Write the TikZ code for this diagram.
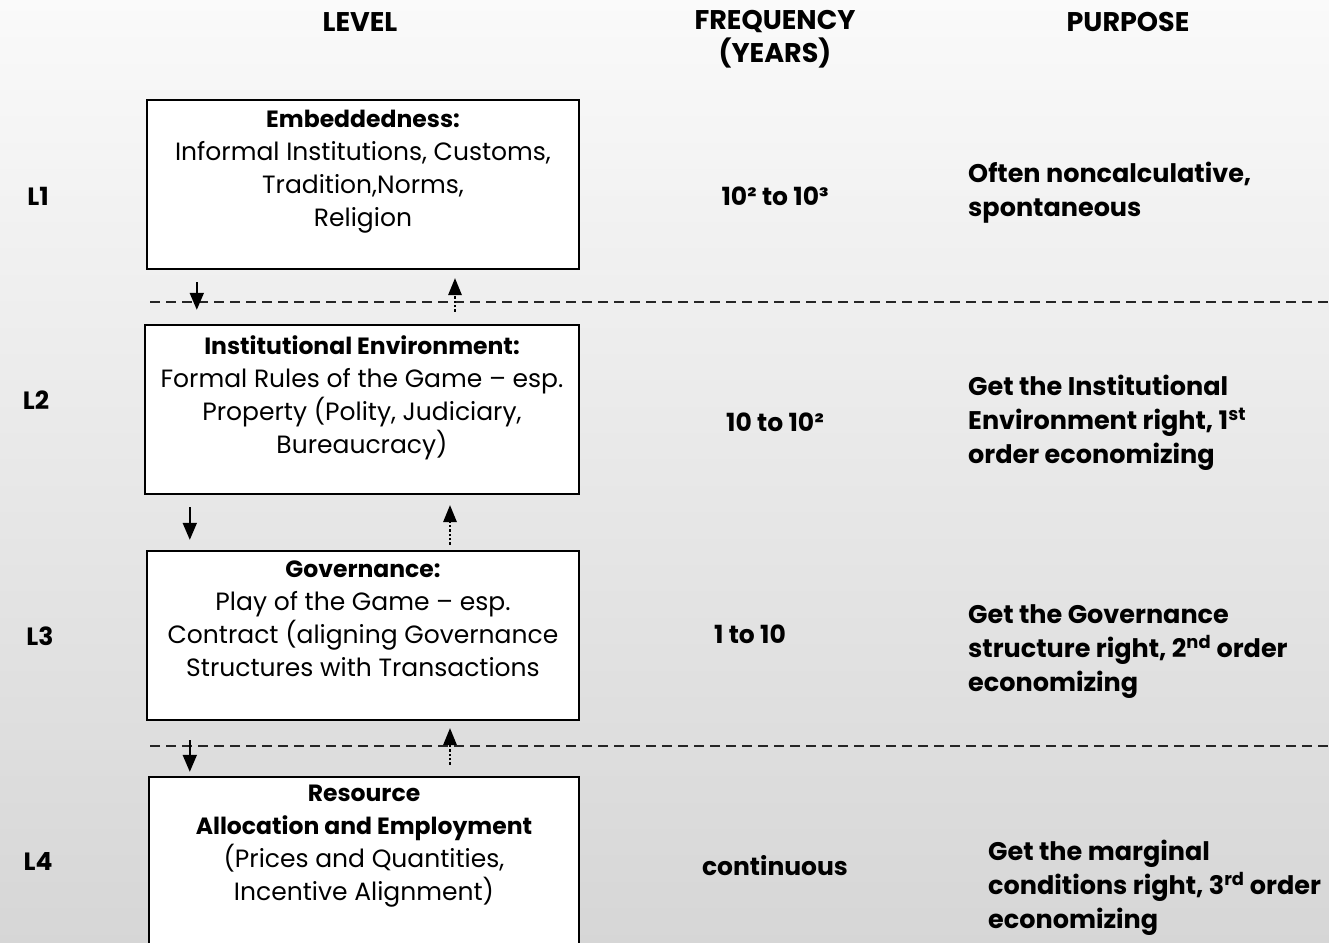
\documentclass[tikz,border=0pt]{standalone}
\usepackage{fontspec}
\setmainfont{Poppins}
\usetikzlibrary{arrows.meta,calc}

\newcommand{\boldline}[1]{{\fontsize{23.5}{33}\selectfont\bfseries #1}}

\tikzset{
  levelbox/.style={draw=black, line width=2pt, fill=white},
  boxtext/.style={anchor=north, align=center, inner sep=0pt, font=\fontsize{25}{33}\selectfont},
  head/.style={anchor=center, align=center, inner sep=0pt, font=\fontsize{27}{33}\selectfont\bfseries},
  lvl/.style={anchor=center, inner sep=0pt, font=\fontsize{25}{30}\selectfont\bfseries},
  freq/.style={anchor=center, inner sep=0pt, font=\fontsize{25}{33}\selectfont\bfseries},
  purpose/.style={anchor=north west, align=left, inner sep=0pt, font=\fontsize{25.5}{34}\selectfont\bfseries},
  sep/.style={dash pattern=on 10pt off 6pt, line width=1.6pt, black!85},
  dn/.style={line width=2pt, -{Triangle[width=14pt,length=17pt]}},
  up/.style={line width=2.4pt, dotted, -{Triangle[width=14pt,length=17pt,line width=0pt]}},
}

\begin{document}
\begin{tikzpicture}[x=1pt,y=-1pt]
  % page and background shading
  \useasboundingbox (0,0) rectangle (1329,942);
  \shade[top color=white!98!black, bottom color=white!84!black] (0,0) rectangle (1329,942);
  \clip (0,0) rectangle (1329,942);

  % column headings
  \node[head] (hlevel) at (360,22) {LEVEL};
  \node[head] (hfreq) at (775,39) {FREQUENCY\\(YEARS)};
  \node[head] (hpurp) at (1128,22) {PURPOSE};

  % level boxes
  \draw[levelbox] (147,100) rectangle (579,269);
  \node[inner sep=0pt, minimum width=432pt, minimum height=169pt] (b1) at (363,184.5) {};
  \draw[levelbox] (145,325) rectangle (579,494);
  \node[inner sep=0pt, minimum width=434pt, minimum height=169pt] (b2) at (362,409.5) {};
  \draw[levelbox] (147,551) rectangle (579,720);
  \node[inner sep=0pt, minimum width=432pt, minimum height=169pt] (b3) at (363,635.5) {};
  \draw[levelbox] (149,777) rectangle (579,960);
  \node[inner sep=0pt, minimum width=430pt, minimum height=183pt] (b4) at (364,868.5) {};

  \node[boxtext] (t1) at (363,110) {\boldline{Embeddedness:}\\Informal Institutions, Customs,\\Tradition,Norms,\\Religion};
  \node[boxtext] (t2) at (362,335) {\boldline{Institutional Environment:}\\Formal Rules of the Game – esp.\\Property (Polity, Judiciary,\\Bureaucracy)};
  \node[boxtext] (t3) at (363,561) {\boldline{Governance:}\\Play of the Game – esp.\\Contract (aligning Governance\\Structures with Transactions};
  \node[boxtext] (t4) at (364,785) {\boldline{Resource}\\\boldline{Allocation and Employment}\\(Prices and Quantities,\\Incentive Alignment)};

  % dashed separators
  \coordinate (s1a) at (150,302);
  \coordinate (s1b) at (1329,302);
  \coordinate (s2a) at (150,746);
  \coordinate (s2b) at (1329,746);
  \draw[sep] (s1a) -- (s1b);
  \draw[sep] (s2a) -- (s2b);

  % downward influence
  \draw[dn, shorten <=13pt, shorten >=15pt] ([xshift=50pt]b1.south west) -- ([xshift=50pt]b1.south west |- b2.north);
  \draw[dn, shorten <=13pt, shorten >=11pt] ([xshift=45pt]b2.south west) -- ([xshift=45pt]b2.south west |- b3.north);
  \draw[dn, shorten <=20pt, shorten >=5pt] ([xshift=43pt]b3.south west) -- ([xshift=43pt]b3.south west |- b4.north);

  % upward feedback
  \draw[up, shorten <=13pt, shorten >=9pt] ([xshift=93pt]b2.north) -- ([xshift=93pt]b2.north |- b1.south);
  \draw[up, shorten <=6pt, shorten >=11pt] ([xshift=87pt]b3.north) -- ([xshift=87pt]b3.north |- b2.south);
  \draw[up, shorten <=12pt, shorten >=8pt] ([xshift=86pt]b4.north) -- ([xshift=86pt]b4.north |- b3.south);

  % level labels
  \node[lvl] (l1) at (38,196) {L1};
  \node[lvl] (l2) at (36,400) {L2};
  \node[lvl] (l3) at (40,636) {L3};
  \node[lvl] (l4) at (38,861) {L4};

  % frequencies
  \node[freq] (f1) at (775,196) {10² to 10³};
  \node[freq] (f2) at (775,422) {10 to 10²};
  \node[freq] (f3) at (750,634) {1 to 10};
  \node[freq] (f4) at (775,866) {continuous};

  % purposes
  \node[purpose] (p1) at (968,162) {Often noncalculative,\\spontaneous};
  \node[purpose] (p2) at (968,375) {Get the Institutional\\Environment right, 1\textsuperscript{st}\\order economizing};
  \node[purpose] (p3) at (968,604) {Get the Governance\\structure right, 2\textsuperscript{nd} order\\economizing};
  \node[purpose] (p4) at (988,840) {Get the marginal\\conditions right, 3\textsuperscript{rd} order\\economizing};
\end{tikzpicture}
\end{document}
